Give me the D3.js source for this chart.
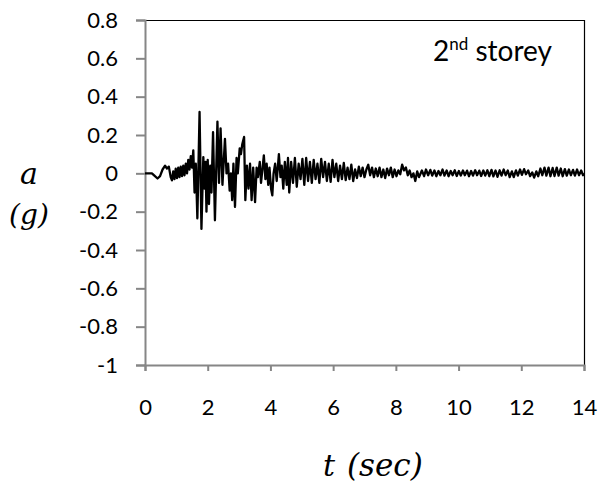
<!DOCTYPE html>
<html>
<head>
<meta charset="utf-8">
<script src="https://cdn.jsdelivr.net/npm/d3@7"></script>
<style>
  body { margin: 0; background: #fff; }
  svg { display: block; }
</style>
</head>
<body>
<svg id="chart" width="598" height="484"></svg>
<script>
// Time (s) and acceleration (g)
const times = [
  0,0.1,0.22,0.3,0.4,0.48,0.56,0.64,0.7,0.76,0.82,0.86,0.9,0.94,0.98,1.02,1.06,1.1,1.14,1.18,1.22,1.26,1.3,1.34,1.38,1.42,1.46,1.5,1.54,
  1.58,1.62,1.67,1.74,1.8,1.86,1.9,1.93,1.96,2.0,2.04,2.08,2.12,2.17,2.23,2.31,2.36,2.41,2.47,2.55,2.6,2.65,2.7,2.74,2.78,2.82,2.87,2.92,2.96,3.02,3.06,3.1,3.16,3.2,
  3.25,3.3,3.35,3.4,3.45,3.51,3.56,3.6,3.66,3.7,3.75,3.79,3.84,3.88,3.93,3.97,4.02,4.06,4.1,4.15,4.2,4.27,4.32,4.36,4.41,4.46,4.52,4.56,4.6,
  4.66,4.72,4.78,4.84,4.9,4.96,5.02,5.08,5.14,5.2,
  5.26,5.32,5.38,5.44,5.5,5.56,5.62,5.68,5.74,5.8,
  5.86,5.92,5.98,6.04,6.1,6.16,6.22,6.28,6.34,6.4,
  6.46,6.52,6.58,6.64,6.7,6.76,6.82,6.88,6.94,7.0,
  7.06,7.12,7.18,7.24,7.3,7.36,7.42,7.48,7.54,7.6,
  7.66,7.72,7.78,7.84,7.9,7.96,8.02,8.08,8.14,8.2,
  8.26,8.32,8.38,8.44,8.5,8.56,8.62,8.68,8.74,
  8.83,8.9,8.96,9.03,9.1,9.16,9.23,9.29,9.36,9.42,9.49,9.55,9.62,9.68,9.75,9.81,9.88,9.94,10.01,10.07,10.14,10.2,10.27,10.33,10.4,10.46,10.53,10.59,10.66,10.72,
  10.79,10.85,10.92,10.98,11.05,11.11,11.18,11.24,11.31,11.37,11.44,11.5,11.57,11.63,11.7,11.76,11.83,11.89,11.96,12.02,12.09,12.15,12.22,12.28,12.35,12.41,12.48,12.54,
  12.61,12.67,12.74,12.8,12.87,12.93,13.0,13.06,13.13,13.19,13.26,13.32,13.39,13.45,13.52,13.58,13.65,13.71,13.78,13.84,13.91,13.97,14.0
];
const accel = [
  0,0,0,-0.012,-0.027,-0.015,0.02,0.04,0.025,0.035,-0.02,-0.037,0.01,-0.03,0.025,-0.025,0.03,-0.02,0.035,-0.015,0.04,-0.01,0.05,0.0,0.07,0.02,0.09,0.03,0.12,
  -0.1,0.05,-0.235,0.32,-0.29,0.085,-0.08,0.06,-0.2,0.07,-0.16,0.04,-0.1,0.215,-0.245,0.27,-0.05,0.235,-0.06,0.18,0.0,0.05,-0.09,0.0,-0.14,0.05,-0.175,0.08,0.0,0.13,0.1,0.15,0.19,-0.14,
  0.04,-0.08,0.05,-0.14,0.03,-0.15,0.03,-0.02,0.06,-0.05,0.03,0.094,-0.03,0.05,-0.06,0.03,-0.08,-0.115,0.0,0.05,-0.04,0.1,-0.02,0.04,-0.08,0.06,-0.06,0.08,-0.1,
  0.06,-0.05,0.08,-0.07,0.05,-0.03,0.075,-0.06,0.08,-0.04,
  0.06,-0.05,0.07,-0.03,0.05,-0.05,0.075,-0.02,0.06,-0.04,
  0.05,-0.045,0.07,-0.02,0.05,-0.04,0.04,-0.03,0.055,-0.035,
  0.03,-0.03,0.045,-0.04,0.02,-0.025,0.035,-0.015,0.03,-0.02,
  0.02,0.045,-0.01,0.03,-0.02,0.025,-0.015,0.03,-0.02,0.02,
  -0.025,0.025,-0.01,0.03,-0.02,0.02,-0.015,0.015,-0.005,0.045,
  0.015,0.03,-0.01,0.015,-0.02,0.0,-0.04,0.01,-0.02,
  0.015,-0.015,0.02,-0.01,0.018,-0.012,0.015,-0.015,0.012,-0.01,0.02,-0.012,0.015,-0.015,0.012,-0.01,0.016,-0.014,0.012,-0.012,0.015,-0.01,0.014,-0.015,0.012,-0.012,0.016,-0.01,0.014,-0.014,
  0.015,-0.012,0.016,-0.015,0.018,-0.016,0.015,-0.018,0.016,-0.012,0.02,-0.01,0.015,-0.02,0.01,-0.02,0.015,-0.012,0.02,-0.008,0.022,-0.005,0.015,-0.015,0.005,-0.022,0.01,-0.015,
  0.025,-0.01,0.03,-0.012,0.03,-0.015,0.028,-0.014,0.03,-0.012,0.025,-0.015,0.022,-0.012,0.02,-0.01,0.018,-0.012,0.02,-0.01,0.015,-0.01,0.0
];
const xTicks = [0, 2, 4, 6, 8, 10, 12, 14];
const yTicks = [-1, -0.8, -0.6, -0.4, -0.2, 0, 0.2, 0.4, 0.6, 0.8];

const svg = d3.select("#chart");
const mLeft = 145, mRight = 584, mTop = 20, mBottom = 365;
const axisGray = "#868686";

const x = d3.scaleLinear().domain([0, 14]).range([mLeft, mRight]);
const y = d3.scaleLinear().domain([-1, 0.8]).range([mBottom, mTop]);

// Plot frame (top and right)
svg.append("line").attr("x1", mLeft).attr("x2", mRight).attr("y1", mTop + 0.5).attr("y2", mTop + 0.5)
  .attr("stroke", "#000").attr("stroke-width", 1.2);
svg.append("line").attr("x1", mRight + 0.5).attr("x2", mRight + 0.5).attr("y1", mTop).attr("y2", mBottom)
  .attr("stroke", "#000").attr("stroke-width", 1.2);

// Y axis
const yAxis = svg.append("g").attr("transform", `translate(${mLeft},0)`)
  .call(d3.axisLeft(y).tickValues(yTicks).tickSize(9).tickPadding(18));
// X axis
const xAxis = svg.append("g").attr("transform", `translate(0,${mBottom})`)
  .call(d3.axisBottom(x).tickValues(xTicks).tickSize(6).tickPadding(40));

[yAxis, xAxis].forEach(g => {
  g.select(".domain").attr("stroke", axisGray).attr("stroke-width", 2);
  g.selectAll(".tick line").attr("stroke", axisGray).attr("stroke-width", 2);
  g.selectAll(".tick text").attr("fill", "#000")
    .style("font-family", "Lato, 'Open Sans', sans-serif").style("font-size", "22px");
});
yAxis.selectAll(".tick text").text(d => d < 0 ? "-" + String(+Math.abs(d).toFixed(1)) : String(+d.toFixed(1)));
xAxis.selectAll(".tick text").attr("dy", "0.2em");

// Data line
const line = d3.line().x((d, i) => x(times[i])).y((d, i) => y(accel[i]));
svg.append("path").datum(accel).attr("d", line)
  .attr("fill", "none").attr("stroke", "#000").attr("stroke-width", 2.3).attr("stroke-linejoin", "round");

// Annotation
const ann = svg.append("text").attr("x", 433).attr("y", 61)
  .style("font-family", "Lato, 'Open Sans', sans-serif").style("font-size", "28px").attr("fill", "#000");
ann.append("tspan").text("2");
ann.append("tspan").attr("dy", -11).style("font-size", "17px").text("nd");
ann.append("tspan").attr("dy", 11).text(" storey");

// Axis titles
const serif = "'DejaVu Serif', 'Liberation Serif', serif";
svg.append("text").attr("x", 29).attr("y", 184).attr("text-anchor", "middle")
  .style("font-family", serif).style("font-style", "italic").style("font-size", "30px").text("a");
svg.append("text").attr("x", 29).attr("y", 224).attr("text-anchor", "middle")
  .style("font-family", serif).style("font-style", "italic").style("font-size", "28px").text("(g)");
svg.append("text").attr("x", 323).attr("y", 476)
  .style("font-family", serif).style("font-style", "italic").style("font-size", "30px").text("t");
svg.append("text").attr("x", 347).attr("y", 476)
  .style("font-family", serif).style("font-style", "italic").style("font-size", "31px").text("(sec)");
</script>
</body>
</html>
